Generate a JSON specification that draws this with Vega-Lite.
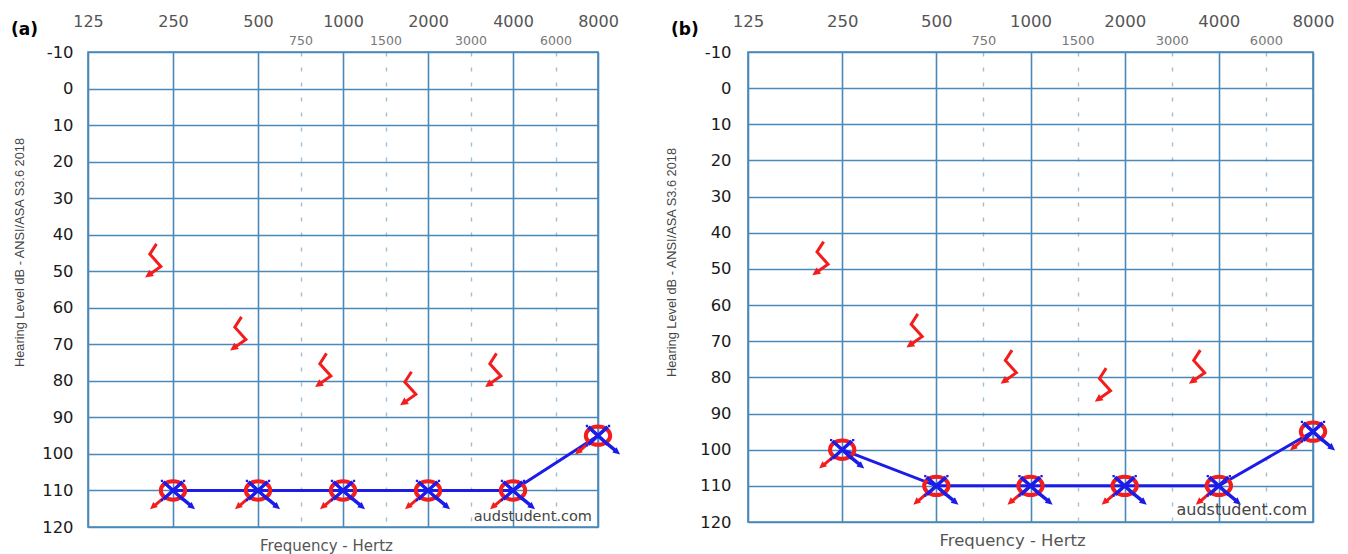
{
  "$schema": "https://vega.github.io/schema/vega-lite/v6.json",
  "background": "white",
  "padding": {"left": 10, "top": 12, "right": 0, "bottom": 0},
  "spacing": 150,
  "bounds": "flush",
  "config": {
    "view": {"stroke": "#4a88b8", "strokeWidth": 1.6},
    "axis": {"labelFont": "DejaVu Sans", "titleFont": "DejaVu Sans"}
  },
  "datasets": {
    "air": [
      {"panel": "a", "freq": 250, "db": 110},
      {"panel": "a", "freq": 500, "db": 110},
      {"panel": "a", "freq": 1000, "db": 110},
      {"panel": "a", "freq": 2000, "db": 110},
      {"panel": "a", "freq": 4000, "db": 110},
      {"panel": "a", "freq": 8000, "db": 95},
      {"panel": "b", "freq": 250, "db": 100},
      {"panel": "b", "freq": 500, "db": 110},
      {"panel": "b", "freq": 1000, "db": 110},
      {"panel": "b", "freq": 2000, "db": 110},
      {"panel": "b", "freq": 4000, "db": 110},
      {"panel": "b", "freq": 8000, "db": 95}
    ],
    "bone": [
      {"panel": "a", "freq": 250, "db": 47},
      {"panel": "a", "freq": 500, "db": 67},
      {"panel": "a", "freq": 1000, "db": 77},
      {"panel": "a", "freq": 2000, "db": 82},
      {"panel": "a", "freq": 4000, "db": 77},
      {"panel": "b", "freq": 250, "db": 47},
      {"panel": "b", "freq": 500, "db": 67},
      {"panel": "b", "freq": 1000, "db": 77},
      {"panel": "b", "freq": 2000, "db": 82},
      {"panel": "b", "freq": 4000, "db": 77}
    ]
  },
  "hconcat": [
    {
      "width": 510,
      "height": 475,
      "title": {"text": "(a)", "anchor": "start", "frame": "group", "dx": -77, "dy": 30, "font": "DejaVu Sans", "fontSize": 17, "fontWeight": "bold", "color": "#000000"},
      "resolve": {"axis": {"x": "independent"}},
      "layer": [
        {
          "data": {"name": "air"},
          "transform": [{"filter": "datum.panel == 'a'"}],
          "mark": {"type": "line", "color": "#1c1ce8", "strokeWidth": 3},
          "encoding": {
            "x": {
              "field": "freq", "type": "ordinal",
              "scale": {"type": "point", "padding": 0, "domain": [125, 177, 250, 354, 500, 750, 1000, 1500, 2000, 3000, 4000, 6000, 8000]},
              "axis": {
                "orient": "top", "title": null, "values": [125, 250, 500, 750, 1000, 1500, 2000, 3000, 4000, 6000, 8000],
                "ticks": false, "tickSize": 0, "domain": false, "labelAngle": 0, "labelOverlap": false,
                "labelFontSize": {"expr": "indexof([750,1500,3000,6000], datum.value) >= 0 ? 12.5 : 16"},
                "labelPadding": {"expr": "indexof([750,1500,3000,6000], datum.value) >= 0 ? 5 : 23"},
                "labelColor": {"expr": "indexof([750,1500,3000,6000], datum.value) >= 0 ? '#777777' : '#555555'"},
                "grid": true,
                "gridColor": {"expr": "indexof([750,1500,3000,6000], datum.value) >= 0 ? '#9fbfd6' : '#4a88b8'"},
                "gridDash": {"expr": "indexof([750,1500,3000,6000], datum.value) >= 0 ? [4, 11] : []"},
                "gridWidth": {"expr": "indexof([750,1500,3000,6000], datum.value) >= 0 ? 1.4 : 1.6"}
              }
            },
            "y": {
              "field": "db", "type": "quantitative",
              "scale": {"domain": [-10, 120], "reverse": true, "nice": false, "zero": false},
              "axis": {
                "values": [-10, 0, 10, 20, 30, 40, 50, 60, 70, 80, 90, 100, 110, 120],
                "tickCount": 30,
                "labelExpr": "'' + datum.value", "labelOverlap": false,
                "title": "Hearing Level dB - ANSI/ASA S3.6 2018",
                "titleFont": "Liberation Sans", "titleFontSize": 12.8, "titleFontWeight": "normal", "titleColor": "#444444",
                "titleY": 200, "titlePadding": 15,
                "labelFontSize": 16.4, "labelColor": "#1a1a1a", "labelPadding": 15,
                "ticks": false, "tickSize": 0, "domain": false,
                "grid": true, "gridColor": "#4a88b8", "gridWidth": 1.6
              }
            }
          }
        },
        {
          "data": {"name": "air"},
          "transform": [{"filter": "datum.panel == 'a'"}],
          "mark": {"type": "point", "shape": "M0.53,0 C0.53,0.221 0.293,0.4 0,0.4 C-0.293,0.4 -0.53,0.221 -0.53,0 C-0.53,-0.221 -0.293,-0.4 0,-0.4 C0.293,-0.4 0.53,-0.221 0.53,0 Z", "size": 2116, "filled": false, "color": "#f31d1d", "stroke": "#f31d1d", "strokeWidth": 4, "opacity": 1},
          "encoding": {
            "x": {
              "field": "freq", "type": "ordinal",
              "axis": {"orient": "bottom", "labels": false, "ticks": false, "domain": false, "grid": false,
                "title": "Frequency - Hertz", "titleFontSize": 15, "titleFontWeight": "normal", "titleColor": "#555555", "titlePadding": 11, "titleX": 238}
            },
            "y": {"field": "db", "type": "quantitative"}
          }
        },
        {
          "data": {"name": "air"},
          "transform": [{"filter": "datum.panel == 'a'"}],
          "mark": {"type": "point", "shape": "M-0.38,0.3 L-0.8,0.66", "size": 2116, "filled": false, "color": "#f31d1d", "stroke": "#f31d1d", "strokeWidth": 3, "opacity": 1},
          "encoding": {"x": {"field": "freq", "type": "ordinal", "axis": null}, "y": {"field": "db", "type": "quantitative"}}
        },
        {
          "data": {"name": "air"},
          "transform": [{"filter": "datum.panel == 'a'"}],
          "mark": {"type": "point", "shape": "M-1,0.82 L-0.66,0.72 L-0.86,0.5 Z", "size": 2116, "filled": true, "color": "#f31d1d", "fill": "#f31d1d", "strokeWidth": 0, "opacity": 1},
          "encoding": {"x": {"field": "freq", "type": "ordinal", "axis": null}, "y": {"field": "db", "type": "quantitative"}}
        },
        {
          "data": {"name": "air"},
          "transform": [{"filter": "datum.panel == 'a'"}],
          "mark": {"type": "point", "shape": "M-0.42,-0.38 L0.42,0.38 M0.42,-0.38 L-0.42,0.38 M0.3,0.27 L0.78,0.66", "size": 2116, "filled": false, "color": "#1c1ce8", "stroke": "#1c1ce8", "strokeWidth": 3.5, "opacity": 1},
          "encoding": {"x": {"field": "freq", "type": "ordinal", "axis": null}, "y": {"field": "db", "type": "quantitative"}}
        },
        {
          "data": {"name": "air"},
          "transform": [{"filter": "datum.panel == 'a'"}],
          "mark": {"type": "point", "shape": "M0.96,0.82 L0.62,0.73 L0.81,0.5 Z M-0.53,-0.47 L-0.43,-0.47 L-0.43,-0.37 L-0.53,-0.37 Z M0.43,-0.47 L0.53,-0.47 L0.53,-0.37 L0.43,-0.37 Z M-0.53,0.37 L-0.43,0.37 L-0.43,0.47 L-0.53,0.47 Z", "size": 2116, "filled": true, "color": "#1c1ce8", "fill": "#1c1ce8", "strokeWidth": 0, "opacity": 1},
          "encoding": {"x": {"field": "freq", "type": "ordinal", "axis": null}, "y": {"field": "db", "type": "quantitative"}}
        },
        {
          "data": {"name": "bone"},
          "transform": [{"filter": "datum.panel == 'a'"}],
          "mark": {"type": "point", "shape": "M0.2,-0.94 L-0.18,-0.35 L0.45,0.35 L-0.1,0.74", "size": 1225, "filled": false, "color": "#f31d1d", "stroke": "#f31d1d", "strokeWidth": 3, "opacity": 1, "xOffset": -20},
          "encoding": {"x": {"field": "freq", "type": "ordinal", "axis": null}, "y": {"field": "db", "type": "quantitative"}}
        },
        {
          "data": {"name": "bone"},
          "transform": [{"filter": "datum.panel == 'a'"}],
          "mark": {"type": "point", "shape": "M-0.45,0.98 L0.05,0.9 L-0.21,0.54 Z", "size": 1225, "filled": true, "color": "#f31d1d", "fill": "#f31d1d", "strokeWidth": 0, "opacity": 1, "xOffset": -20},
          "encoding": {"x": {"field": "freq", "type": "ordinal", "axis": null}, "y": {"field": "db", "type": "quantitative"}}
        },
        {
          "data": {"values": [{"label": "audstudent.com"}]},
          "mark": {"type": "text", "align": "right", "baseline": "middle", "dx": -6, "font": "DejaVu Sans", "fontSize": 14.5, "color": "#444444"},
          "encoding": {
            "x": {"datum": 8000, "type": "ordinal", "axis": null},
            "y": {"datum": 117.3, "type": "quantitative"},
            "text": {"field": "label"}
          }
        }
      ]
    },
    {
      "width": 565,
      "height": 470,
      "title": {"text": "(b)", "anchor": "start", "frame": "group", "dx": -77, "dy": 30, "font": "DejaVu Sans", "fontSize": 17, "fontWeight": "bold", "color": "#000000"},
      "resolve": {"axis": {"x": "independent"}},
      "layer": [
        {
          "data": {"name": "air"},
          "transform": [{"filter": "datum.panel == 'b'"}],
          "mark": {"type": "line", "color": "#1c1ce8", "strokeWidth": 3},
          "encoding": {
            "x": {
              "field": "freq", "type": "ordinal",
              "scale": {"type": "point", "padding": 0, "domain": [125, 177, 250, 354, 500, 750, 1000, 1500, 2000, 3000, 4000, 6000, 8000]},
              "axis": {
                "orient": "top", "title": null, "values": [125, 250, 500, 750, 1000, 1500, 2000, 3000, 4000, 6000, 8000],
                "ticks": false, "tickSize": 0, "domain": false, "labelAngle": 0, "labelOverlap": false,
                "labelFontSize": {"expr": "indexof([750,1500,3000,6000], datum.value) >= 0 ? 13 : 16.5"},
                "labelPadding": {"expr": "indexof([750,1500,3000,6000], datum.value) >= 0 ? 5 : 23"},
                "labelColor": {"expr": "indexof([750,1500,3000,6000], datum.value) >= 0 ? '#777777' : '#555555'"},
                "grid": true,
                "gridColor": {"expr": "indexof([750,1500,3000,6000], datum.value) >= 0 ? '#9fbfd6' : '#4a88b8'"},
                "gridDash": {"expr": "indexof([750,1500,3000,6000], datum.value) >= 0 ? [4, 11] : []"},
                "gridWidth": {"expr": "indexof([750,1500,3000,6000], datum.value) >= 0 ? 1.4 : 1.6"}
              }
            },
            "y": {
              "field": "db", "type": "quantitative",
              "scale": {"domain": [-10, 120], "reverse": true, "nice": false, "zero": false},
              "axis": {
                "values": [-10, 0, 10, 20, 30, 40, 50, 60, 70, 80, 90, 100, 110, 120],
                "tickCount": 30,
                "labelExpr": "'' + datum.value", "labelOverlap": false,
                "title": "Hearing Level dB - ANSI/ASA S3.6 2018",
                "titleFont": "Liberation Sans", "titleFontSize": 12.8, "titleFontWeight": "normal", "titleColor": "#444444",
                "titleY": 210, "titlePadding": 21,
                "labelFontSize": 16.4, "labelColor": "#1a1a1a", "labelPadding": 17,
                "ticks": false, "tickSize": 0, "domain": false,
                "grid": true, "gridColor": "#4a88b8", "gridWidth": 1.6
              }
            }
          }
        },
        {
          "data": {"name": "air"},
          "transform": [{"filter": "datum.panel == 'b'"}],
          "mark": {"type": "point", "shape": "M0.53,0 C0.53,0.221 0.293,0.4 0,0.4 C-0.293,0.4 -0.53,0.221 -0.53,0 C-0.53,-0.221 -0.293,-0.4 0,-0.4 C0.293,-0.4 0.53,-0.221 0.53,0 Z", "size": 2116, "filled": false, "color": "#f31d1d", "stroke": "#f31d1d", "strokeWidth": 4, "opacity": 1},
          "encoding": {
            "x": {
              "field": "freq", "type": "ordinal",
              "axis": {"orient": "bottom", "labels": false, "ticks": false, "domain": false, "grid": false,
                "title": "Frequency - Hertz", "titleFontSize": 16.5, "titleFontWeight": "normal", "titleColor": "#555555", "titlePadding": 10, "titleX": 264}
            },
            "y": {"field": "db", "type": "quantitative"}
          }
        },
        {
          "data": {"name": "air"},
          "transform": [{"filter": "datum.panel == 'b'"}],
          "mark": {"type": "point", "shape": "M-0.38,0.3 L-0.8,0.66", "size": 2116, "filled": false, "color": "#f31d1d", "stroke": "#f31d1d", "strokeWidth": 3, "opacity": 1},
          "encoding": {"x": {"field": "freq", "type": "ordinal", "axis": null}, "y": {"field": "db", "type": "quantitative"}}
        },
        {
          "data": {"name": "air"},
          "transform": [{"filter": "datum.panel == 'b'"}],
          "mark": {"type": "point", "shape": "M-1,0.82 L-0.66,0.72 L-0.86,0.5 Z", "size": 2116, "filled": true, "color": "#f31d1d", "fill": "#f31d1d", "strokeWidth": 0, "opacity": 1},
          "encoding": {"x": {"field": "freq", "type": "ordinal", "axis": null}, "y": {"field": "db", "type": "quantitative"}}
        },
        {
          "data": {"name": "air"},
          "transform": [{"filter": "datum.panel == 'b'"}],
          "mark": {"type": "point", "shape": "M-0.42,-0.38 L0.42,0.38 M0.42,-0.38 L-0.42,0.38 M0.3,0.27 L0.78,0.66", "size": 2116, "filled": false, "color": "#1c1ce8", "stroke": "#1c1ce8", "strokeWidth": 3.5, "opacity": 1},
          "encoding": {"x": {"field": "freq", "type": "ordinal", "axis": null}, "y": {"field": "db", "type": "quantitative"}}
        },
        {
          "data": {"name": "air"},
          "transform": [{"filter": "datum.panel == 'b'"}],
          "mark": {"type": "point", "shape": "M0.96,0.82 L0.62,0.73 L0.81,0.5 Z M-0.53,-0.47 L-0.43,-0.47 L-0.43,-0.37 L-0.53,-0.37 Z M0.43,-0.47 L0.53,-0.47 L0.53,-0.37 L0.43,-0.37 Z M-0.53,0.37 L-0.43,0.37 L-0.43,0.47 L-0.53,0.47 Z", "size": 2116, "filled": true, "color": "#1c1ce8", "fill": "#1c1ce8", "strokeWidth": 0, "opacity": 1},
          "encoding": {"x": {"field": "freq", "type": "ordinal", "axis": null}, "y": {"field": "db", "type": "quantitative"}}
        },
        {
          "data": {"name": "bone"},
          "transform": [{"filter": "datum.panel == 'b'"}],
          "mark": {"type": "point", "shape": "M0.2,-0.94 L-0.18,-0.35 L0.45,0.35 L-0.1,0.74", "size": 1225, "filled": false, "color": "#f31d1d", "stroke": "#f31d1d", "strokeWidth": 3, "opacity": 1, "xOffset": -22},
          "encoding": {"x": {"field": "freq", "type": "ordinal", "axis": null}, "y": {"field": "db", "type": "quantitative"}}
        },
        {
          "data": {"name": "bone"},
          "transform": [{"filter": "datum.panel == 'b'"}],
          "mark": {"type": "point", "shape": "M-0.45,0.98 L0.05,0.9 L-0.21,0.54 Z", "size": 1225, "filled": true, "color": "#f31d1d", "fill": "#f31d1d", "strokeWidth": 0, "opacity": 1, "xOffset": -22},
          "encoding": {"x": {"field": "freq", "type": "ordinal", "axis": null}, "y": {"field": "db", "type": "quantitative"}}
        },
        {
          "data": {"values": [{"label": "audstudent.com"}]},
          "mark": {"type": "text", "align": "right", "baseline": "middle", "dx": -6, "font": "DejaVu Sans", "fontSize": 16, "color": "#444444"},
          "encoding": {
            "x": {"datum": 8000, "type": "ordinal", "axis": null},
            "y": {"datum": 116.7, "type": "quantitative"},
            "text": {"field": "label"}
          }
        }
      ]
    }
  ]
}
